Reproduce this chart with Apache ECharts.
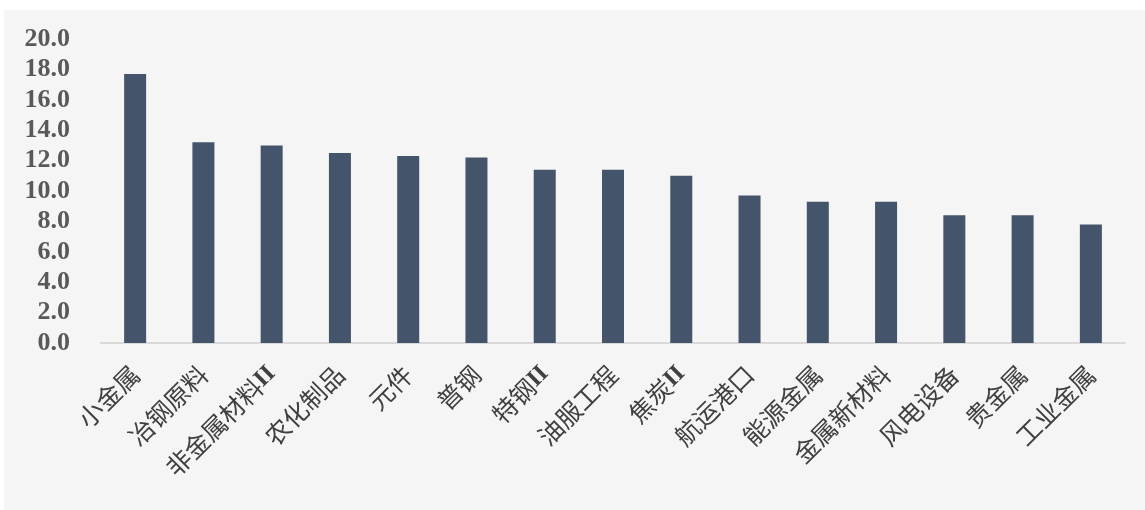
<!DOCTYPE html>
<html>
<head>
	<meta charset="utf-8">
	<title>行业柱状图</title>
	<script src="https://cdn.jsdelivr.net/npm/echarts@6/dist/echarts.min.js"></script>
	<style>
body{
	margin: 0;
	background: #ffffff;
}
#main{
	position: absolute;
	left: 4px;
	top: 10px;
	width: 1141px;
	height: 500px;
	background: #f5f5f5;
}
</style>
</head>
<body>
<div id="main"></div>
<script>
var categories = ['小金属', '冶钢原料', '非金属材料II', '农化制品', '元件', '普钢', '特钢II', '油服工程', '焦炭II', '航运港口', '能源金属', '金属新材料', '风电设备', '贵金属', '工业金属'];
var values = [17.7, 13.2, 13.0, 12.5, 12.3, 12.2, 11.4, 11.4, 11.0, 9.7, 9.3, 9.3, 8.4, 8.4, 7.8];
var yMin = 0, yMax = 20, yStep = 2;

var myChart = echarts.init(document.getElementById('main'));
var option = {
	backgroundColor: '#f5f5f5',
	animation: false,
	grid: {left: 97, right: 20, top: 29, bottom: 167},
	xAxis: {
		type: 'category',
		data: categories,
		axisLine: {lineStyle: {color: '#d9d9d9', width: 2}},
		axisTick: {show: false},
		axisLabel: {
			interval: 0,
			rotate: 45,
			margin: 27,
			color: '#404040',
			fontSize: 25,
			fontFamily: '"Noto Sans CJK SC", serif',
			// 罗马数字 II 用粗体衬线字
			formatter: function (v) {
				return v.replace(/II$/, '{r|II}');
			},
			rich: {
				r: {
					fontSize: 24,
					fontWeight: 'bold',
					color: '#404040',
					fontFamily: '"Liberation Serif", serif'
				}
			}
		}
	},
	yAxis: {
		type: 'value',
		min: yMin,
		max: yMax,
		interval: yStep,
		axisLine: {show: false},
		axisTick: {show: false},
		splitLine: {show: false},
		axisLabel: {
			margin: 31,
			color: '#595959',
			fontSize: 26,
			fontWeight: 'bold',
			fontFamily: '"Liberation Serif", serif',
			formatter: function (v) { return v.toFixed(1); }
		}
	},
	series: [{
		type: 'bar',
		data: values,
		barWidth: 22,
		itemStyle: {color: '#44546a'}
	}]
};
myChart.setOption(option);
</script>
</body>
</html>
